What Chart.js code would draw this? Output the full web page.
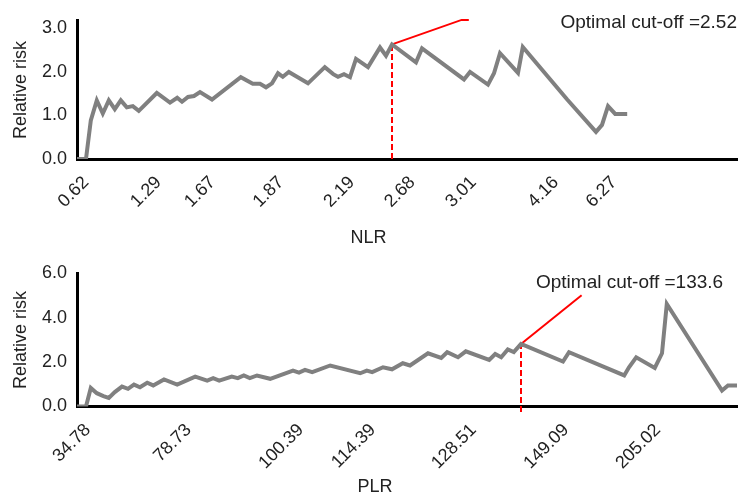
<!DOCTYPE html>
<html>
<head>
<meta charset="utf-8">
<script src="https://cdn.jsdelivr.net/npm/chart.js@4/dist/chart.umd.min.js"></script>
<style>
body { margin:0; background:#fff; }
#wrap { position:relative; width:739px; height:498px; }
canvas { position:absolute; left:0; }
</style>
</head>
<body>
<div id="wrap">
<canvas id="nlrChart" width="739" height="250" style="top:0"></canvas>
<canvas id="plrChart" width="739" height="249" style="top:249px"></canvas>
</div>
<script>
// NLR panel: x = rank position along the axis, y = relative risk
var nlrPos  = [0, 1.5, 2.3, 3.3, 4.3, 5.3, 6.3, 7.3, 8.3, 9.3, 10.3, 13.3, 15.5, 16.7, 17.5, 18.5, 19.5, 20.5, 22.5, 27.3,
               29.3, 30.5, 31.5, 32.5, 33.5, 34.3, 35.3, 38.5, 41.3, 42.7, 43.5, 44.5, 45.5, 46.5, 48.5, 50.5, 51.5, 52.5,
               56.5, 57.5, 64.5, 65.5, 68.5, 69.5, 70.5, 73.5, 74.3, 81.7, 86.5, 87.5, 88.5, 89.7, 91.7];
var nlrRisk = [0, 0, 0.88, 1.34, 1.04, 1.34, 1.14, 1.34, 1.18, 1.21, 1.10, 1.51, 1.29, 1.40, 1.31, 1.42, 1.44, 1.53, 1.36, 1.87,
               1.72, 1.72, 1.64, 1.73, 1.96, 1.88, 1.99, 1.73, 2.10, 1.94, 1.88, 1.94, 1.87, 2.29, 2.10, 2.55, 2.36, 2.62,
               2.21, 2.53, 1.82, 1.99, 1.70, 1.96, 2.42, 1.97, 2.56, 1.36, 0.62, 0.78, 1.21, 1.03, 1.03];
var nlrTickPos  = [1.5, 13.6, 22.6, 34, 45.8, 55.9, 66.1, 79.8, 89.5];
var nlrTickText = ["0.62", "1.29", "1.67", "1.87", "2.19", "2.68", "3.01", "4.16", "6.27"];
var nlrCut = {x: 52.5, y: 2.62};
var nlrLeader = {x: [52.5, 64.1, 65.3], y: [2.62, 3.18, 3.18]};
var nlrNote = {x: 110, y: 3.11, text: "Optimal cut-off =2.52", align: "right"};

// PLR panel
var plrPos  = [0, 1.5, 2.3, 3.3, 4.4, 5.3, 6.3, 7.5, 8.5, 9.5, 10.5, 11.7, 12.7, 14.5, 16.7, 19.7, 21.7, 22.7, 23.7, 25.8,
               26.8, 27.8, 28.8, 30, 32.2, 36, 37, 38, 39.2, 42.2, 47.2, 48.3, 49.2, 51, 52.5, 54.3, 55.5, 58.5, 60.7,
               61.7, 63.5, 64.8, 68.7, 69.7, 70.7, 71.8, 72.8, 74, 81, 82, 91.2, 92, 93.2, 96.3, 97.5, 98.3, 107.5, 108.5, 110];
var plrRisk = [0, 0, 0.84, 0.60, 0.47, 0.39, 0.65, 0.90, 0.80, 0.99, 0.87, 1.07, 0.95, 1.22, 0.99, 1.35, 1.17, 1.28, 1.17, 1.35,
               1.28, 1.40, 1.28, 1.40, 1.25, 1.62, 1.53, 1.65, 1.55, 1.85, 1.50, 1.62, 1.55, 1.77, 1.68, 1.95, 1.85, 2.40, 2.19,
               2.45, 2.22, 2.49, 2.10, 2.37, 2.22, 2.57, 2.45, 2.82, 2.03, 2.45, 1.40, 1.77, 2.22, 1.74, 2.40, 4.63, 0.72, 0.95, 0.95];
var plrTickPos  = [1.8, 18.6, 37.3, 49.3, 66.1, 81.5, 96.8];
var plrTickText = ["34.78", "78.73", "100.39", "114.39", "128.51", "149.09", "205.02"];
var plrCut = {x: 74, y: 2.82};
var plrLeader = {x: [74, 84.1], y: [2.82, 5.02]};
var plrNote = {x: 76.5, y: 5.58, text: "Optimal cut-off =133.6", align: "left"};

var FONT = "'Liberation Sans', Arial, sans-serif";
var TXT = "#222222";
var GREY = "#808080";
var RED = "#ff0000";

function pts(xs, ys) {
	var out = [];
	for (var i = 0; i < xs.length; i++) out.push({x: xs[i], y: ys[i]});
	return out;
}

var notePlugin = {
	id: 'note',
	afterDatasetsDraw: function(chart) {
		var n = chart.options.plugins.note;
		var ctx = chart.ctx;
		ctx.save();
		ctx.font = "19px " + FONT;
		ctx.fillStyle = TXT;
		ctx.textAlign = n.align;
		ctx.textBaseline = 'middle';
		ctx.fillText(n.text, chart.scales.x.getPixelForValue(n.x), chart.scales.y.getPixelForValue(n.y));
		ctx.restore();
	}
};

function makeChart(id, cfg) {
	return new Chart(document.getElementById(id), {
		type: 'line',
		data: {
			datasets: [
				{data: pts(cfg.pos, cfg.risk), borderColor: GREY, borderWidth: 4, pointRadius: 0, tension: 0},
				{data: pts([cfg.cut.x, cfg.cut.x], [cfg.cutFloor, cfg.cut.y]), borderColor: RED, borderWidth: 2,
					borderDash: [6, 3], pointRadius: 0, clip: false},
				{data: pts(cfg.leader.x, cfg.leader.y), borderColor: RED, borderWidth: 2, pointRadius: 0, clip: false}
			]
		},
		options: {
			responsive: false,
			animation: false,
			events: [],
			layout: {padding: cfg.pad},
			plugins: {
				legend: {display: false},
				tooltip: {enabled: false},
				title: {display: true, text: cfg.xTitle, position: 'bottom', color: TXT,
					font: {family: FONT, size: 18, weight: 'normal'}, padding: {top: 0, bottom: cfg.titleBottom}},
				note: cfg.note
			},
			scales: {
				x: {
					type: 'linear', min: 0, max: 110,
					grid: {display: false, drawTicks: false},
					border: {display: true, color: '#000', width: 3},
					afterBuildTicks: function(axis) {
						axis.ticks = cfg.tickPos.map(function(v) { return {value: v}; });
					},
					afterFit: function(axis) { axis.height = cfg.xHeight; },
					ticks: {
						autoSkip: false, minRotation: 45, maxRotation: 45, padding: 13, color: TXT,
						font: {family: FONT, size: 18},
						callback: function(v, i) { return cfg.tickText[i]; }
					}
				},
				y: {
					min: 0, max: cfg.yMax,
					grid: {display: false, drawTicks: false},
					border: {display: true, color: '#000', width: 3},
					afterBuildTicks: function(axis) {
						axis.ticks = cfg.yTicks.map(function(v) { return {value: v}; });
					},
					afterFit: function(axis) { axis.width = cfg.yWidth; },
					ticks: {padding: 10, color: TXT, font: {family: FONT, size: 18},
						callback: function(v) { return v.toFixed(1); }},
					title: {display: true, text: 'Relative risk', color: TXT,
						font: {family: FONT, size: 18}, padding: {top: cfg.yTitlePad, bottom: 0}}
				}
			}
		},
		plugins: [notePlugin]
	});
}

window.onload = function() {
	makeChart('nlrChart', {
		pos: nlrPos, risk: nlrRisk, cut: nlrCut, cutFloor: 0, leader: nlrLeader, note: nlrNote,
		tickPos: nlrTickPos, tickText: nlrTickText, xTitle: 'NLR',
		pad: {top: 16, left: 0, right: 2, bottom: 0}, titleBottom: 1.2, xHeight: 68.2,
		yMax: 3.16, yTicks: [0, 1, 2, 3], yWidth: 77, yTitlePad: 10.7
	});
	makeChart('plrChart', {
		pos: plrPos, risk: plrRisk, cut: plrCut, cutFloor: -0.25, leader: plrLeader, note: plrNote,
		tickPos: plrTickPos, tickText: plrTickText, xTitle: 'PLR',
		pad: {top: 24.5, left: 13, right: 2, bottom: 0}, titleBottom: 0, xHeight: 69.9,
		yMax: 6, yTicks: [0, 2, 4, 6], yWidth: 64, yTitlePad: -2.3
	});
};
</script>
</body>
</html>
